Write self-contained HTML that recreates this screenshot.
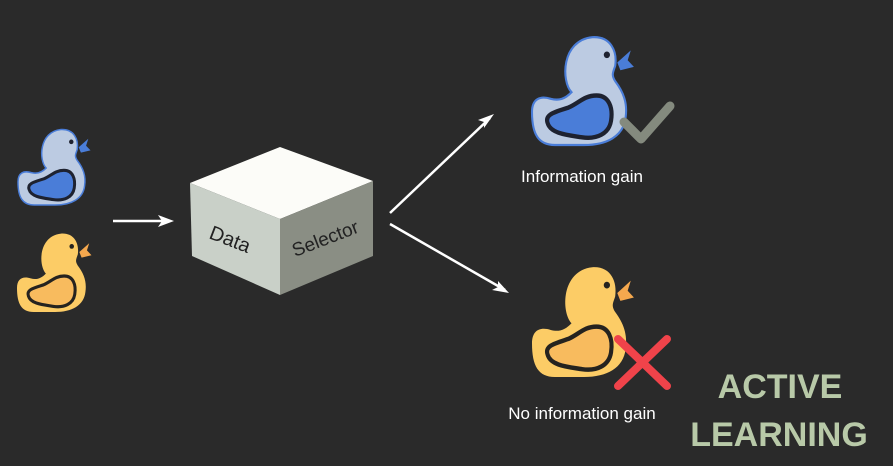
<!DOCTYPE html>
<html><head><meta charset="utf-8"><style>
html,body{margin:0;padding:0;background:#2a2a2a;}
svg{display:block}
</style></head><body>
<svg width="893" height="466" viewBox="0 0 893 466" xmlns="http://www.w3.org/2000/svg">
<rect width="893" height="466" fill="#2a2a2a"/>
<defs>
<g id="blue">
<path d="M38 52 C28 42,28 5,58 2 C76 1,82 15,80 28 C78 34,76 36,80 42 C88 52,92 62,90 75 C88 92,72 100,50 100 L22 100 C6 100,0 90,0 70 C0 58,8 55,18 58 C26 60,32 58,38 52 Z" fill="#bccbe2" stroke="#4a7dd8" stroke-width="2"/>
<path d="M15 80 C12 72,22 70,35 66 C45 62,50 55,62 55 C74 55,78 66,76 78 C74 90,62 95,48 93 C35 91,18 90,15 80 Z" fill="#4a7dd8" stroke="#1e2230" stroke-width="4"/>
<path d="M82 25 L95 14 L92 23 L98 29 L85 32 Z" fill="#4a7dd8"/>
<circle cx="72" cy="18" r="3" fill="#1e2230"/>
</g>
<g id="yellow">
<path d="M38 52 C28 42,28 5,58 2 C76 1,82 15,80 28 C78 34,76 36,80 42 C88 52,92 62,90 75 C88 92,72 100,50 100 L22 100 C6 100,0 90,0 70 C0 58,8 55,18 58 C26 60,32 58,38 52 Z" fill="#fccc66"/>
<path d="M15 80 C12 72,22 70,35 66 C45 62,50 55,62 55 C74 55,78 66,76 78 C74 90,62 95,48 93 C35 91,18 90,15 80 Z" fill="#f8bb5e" stroke="#25231f" stroke-width="4"/>
<path d="M82 25 L95 14 L92 23 L98 29 L85 32 Z" fill="#f5a84e"/>
<circle cx="72" cy="18" r="3" fill="#25231f"/>
</g>
</defs>
<use href="#blue" transform="translate(18,128) scale(0.74,0.77)"/>
<use href="#yellow" transform="translate(17,232) scale(0.76,0.8)"/>
<use href="#blue" transform="translate(532,35) scale(1.04,1.1)"/>
<use href="#yellow" transform="translate(532,265) scale(1.04,1.12)"/>
<polygon points="190,183 280,147 373,181 280,219" fill="#fcfcf8"/>
<polygon points="190,183 280,219 280,295 192,256" fill="#c9d0c8"/>
<polygon points="280,219 373,181 373,256 280,295" fill="#8a8e84"/>
<text x="0" y="0" font-family="Liberation Sans, sans-serif" font-size="20" fill="#222" transform="translate(208,238) rotate(21)">Data</text>
<text x="0" y="0" font-family="Liberation Sans, sans-serif" font-size="19" fill="#222" transform="translate(295,257) rotate(-21)">Selector</text>
<g stroke="#fff" stroke-width="2.5" fill="none">
<line x1="113" y1="221" x2="170" y2="221"/>
<line x1="390" y1="213" x2="490" y2="118"/>
<line x1="390" y1="224" x2="505" y2="290"/>
</g>
<polygon points="174,221 158,215 162,221 158,227" fill="#fff"/>
<polygon points="494,114 478,120 484,122 484,128" fill="#fff"/>
<polygon points="509,293 498,281 498,287 492,290" fill="#fff"/>
<polyline points="624,122 641,139 670,106" fill="none" stroke="#848a7e" stroke-width="9" stroke-linecap="round" stroke-linejoin="round"/>
<g stroke="#f0434a" stroke-width="8" stroke-linecap="round">
<line x1="618" y1="339" x2="667" y2="386"/>
<line x1="667" y1="339" x2="618" y2="386"/>
</g>
<text x="582" y="182" text-anchor="middle" font-family="Liberation Sans, sans-serif" font-size="17" fill="#fff">Information gain</text>
<text x="582" y="419" text-anchor="middle" font-family="Liberation Sans, sans-serif" font-size="17" fill="#fff">No information gain</text>
<text x="780" y="398" text-anchor="middle" font-family="Liberation Sans, sans-serif" font-weight="bold" font-size="34" fill="#b8c9a8">ACTIVE</text>
<text x="779" y="446" text-anchor="middle" font-family="Liberation Sans, sans-serif" font-weight="bold" font-size="34" fill="#b8c9a8">LEARNING</text>
</svg>
</body></html>
